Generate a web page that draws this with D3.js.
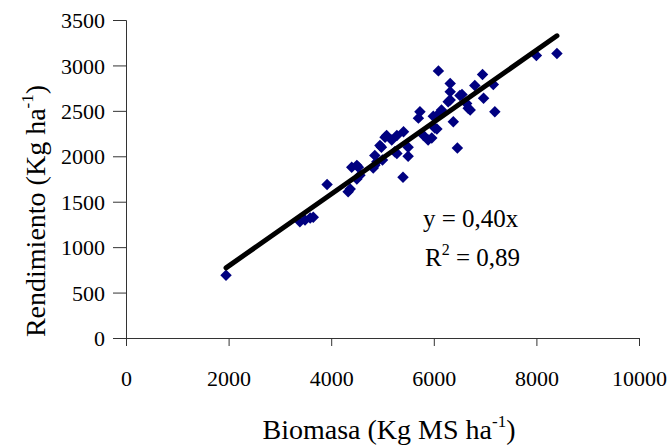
<!DOCTYPE html>
<html>
<head>
<meta charset="utf-8">
<script src="https://cdn.jsdelivr.net/npm/d3@7"></script>
<style>
  html, body { margin: 0; padding: 0; background: #fff; }
  svg { display: block; font-family: "Liberation Serif", "Times New Roman", serif; }
</style>
</head>
<body>
<svg id="chart" width="669" height="447"></svg>
<script>
// values
const biomasa = [1950, 3390, 3490, 3590, 3650, 3920, 4330, 4370, 4400, 4500, 4530, 4500, 4560,
  4820, 4850, 4850, 4890, 4950, 4980, 5000, 5050, 5080, 5180, 5240, 5280, 5280, 5400, 5410,
  5500, 5500, 5700, 5730, 5800, 5890, 5960, 5990, 6020, 6060, 6060, 6090, 6150, 6280, 6320,
  6320, 6320, 6380, 6460, 6510, 6550, 6640, 6670, 6710, 6800, 6950, 6970, 7160, 7190, 8000, 8400];
const rendimiento = [690, 1280, 1300, 1320, 1330, 1690, 1610, 1640, 1880, 1900, 1880, 1750, 1790,
  1870, 1900, 2010, 1940, 2120, 2100, 1960, 2210, 2230, 2180, 2050, 2030, 2230, 1770, 2270,
  2000, 2100, 2420, 2490, 2230, 2180, 2200, 2440, 2310, 2300, 2450, 2940, 2510, 2600, 2620,
  2710, 2800, 2380, 2090, 2670, 2680, 2580, 2530, 2510, 2780, 2900, 2640, 2790, 2490, 3110, 3130];
const xTicks = [0, 2000, 4000, 6000, 8000, 10000];
const yTicks = [0, 500, 1000, 1500, 2000, 2500, 3000, 3500];
// fitted line as drawn (label rounds it to 0,40)
const slope = 0.396;

const svg = d3.select("#chart");
const plot = { left: 126, right: 639, top: 20, bottom: 338 };

const x = d3.scaleLinear().domain([0, 10000]).range([plot.left, plot.right]);
const y = d3.scaleLinear().domain([0, 3500]).range([plot.bottom, plot.top]);

const axisColor = "#333";

const gx = svg.append("g")
  .attr("transform", `translate(0,${plot.bottom})`)
  .call(d3.axisBottom(x).tickValues(xTicks).tickFormat(d3.format("d")).tickSizeOuter(0).tickSize(8).tickPadding(24));
const gy = svg.append("g")
  .attr("transform", `translate(${plot.left},0)`)
  .call(d3.axisLeft(y).tickValues(yTicks).tickFormat(d3.format("d")).tickSizeOuter(0).tickSize(13).tickPadding(8));

[gx, gy].forEach(g => {
  g.select(".domain").attr("stroke", axisColor);
  g.selectAll(".tick line").attr("stroke", axisColor);
  g.selectAll(".tick text")
    .attr("fill", "#000")
    .style("font-family", "Liberation Serif, serif")
    .style("font-size", "22px");
});
gy.selectAll(".tick text").attr("dy", "0.35em");

// diamond markers
const diamond = d3.symbol().type(d3.symbolSquare).size(66);
svg.append("g")
  .selectAll("path")
  .data(biomasa.map((b, i) => [b, rendimiento[i]]))
  .join("path")
  .attr("d", diamond)
  .attr("transform", d => `translate(${x(d[0])},${y(d[1])}) rotate(45)`)
  .attr("fill", "#000080");

// trend line over the data range, on top of the points
const xr = d3.extent(biomasa);
svg.append("line")
  .attr("x1", x(xr[0])).attr("y1", y(slope * xr[0]))
  .attr("x2", x(xr[1])).attr("y2", y(slope * xr[1]))
  .attr("stroke", "#000")
  .attr("stroke-width", 5)
  .attr("stroke-linecap", "round");

// axis titles
const xt = svg.append("text")
  .attr("x", 389).attr("y", 439)
  .attr("text-anchor", "middle")
  .style("font-size", "28px");
xt.append("tspan").text("Biomasa (Kg MS ha");
xt.append("tspan").attr("dy", -12).style("font-size", "17px").text("-1");
xt.append("tspan").attr("dy", 12).text(")");

const yt = svg.append("text")
  .attr("transform", "translate(45,211) rotate(-90)")
  .attr("text-anchor", "middle")
  .style("font-size", "28px");
yt.append("tspan").text("Rendimiento (Kg ha");
yt.append("tspan").attr("dy", -12).style("font-size", "17px").text("-1");
yt.append("tspan").attr("dy", 12).text(")");

// equation
svg.append("text")
  .attr("x", 423).attr("y", 227)
  .style("font-size", "25px")
  .text("y = 0,40x");
const r2 = svg.append("text")
  .attr("x", 425).attr("y", 266)
  .style("font-size", "25px");
r2.append("tspan").text("R");
r2.append("tspan").attr("dy", -11).style("font-size", "16px").text("2");
r2.append("tspan").attr("dy", 11).text(" = 0,89");
</script>
</body>
</html>
